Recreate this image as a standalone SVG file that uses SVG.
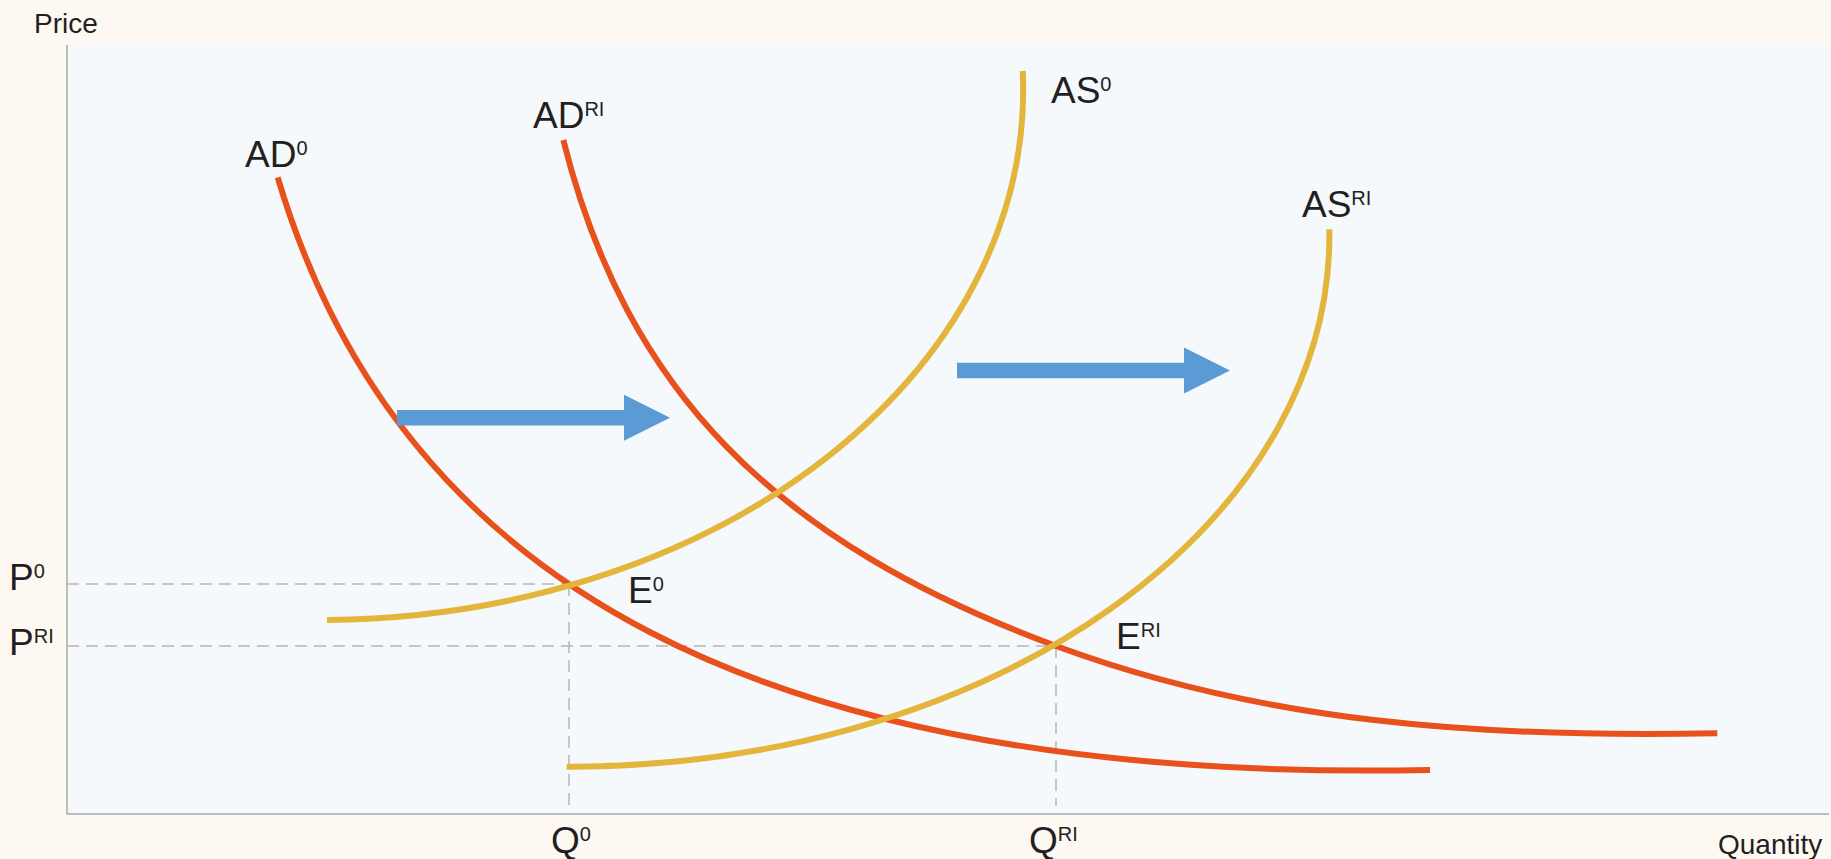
<svg xmlns="http://www.w3.org/2000/svg" width="1831" height="859" viewBox="0 0 1831 859">
  <style>
    .lbl { font-family: "Liberation Sans", Arial, sans-serif; font-size: 37px; fill: #231f20; }
    .axl { font-family: "Liberation Sans", Arial, sans-serif; font-size: 28px; fill: #231f20; }
    .sup { font-size: 20px; }
    .ad { fill: none; stroke: #e9511c; stroke-width: 6; stroke-linecap: butt; }
    .as { fill: none; stroke: #e3b53b; stroke-width: 6; stroke-linecap: butt; }
    .guide { fill: none; stroke: #b5b5b5; stroke-width: 1.5; stroke-dasharray: 12 7; }
    .axis { fill: none; stroke: #a9a9a9; stroke-width: 1.5; }
    .shift { fill: #5b9bd5; }
  </style>
  <defs>
    <polygon id="shiftArrow" points="0,-7.7 227,-7.7 227,-23 273,0 227,23 227,7.7 0,7.7"/>
  </defs>

  <rect x="0" y="0" width="1831" height="859" fill="#fdf8f2"/>
  <rect id="plot-area" x="67" y="45" width="1762" height="769" fill="#f5f9fc"/>

  <g id="axes">
    <line class="axis" x1="67" y1="45" x2="67" y2="814"/>
    <line class="axis" x1="67" y1="814" x2="1829" y2="814"/>
  </g>

  <g id="guides">
    <line class="guide" x1="67" y1="584" x2="569" y2="584"/>
    <line class="guide" x1="67" y1="646" x2="1056" y2="646"/>
    <line class="guide" x1="569" y1="584" x2="569" y2="808"/>
    <line class="guide" x1="1056" y1="646" x2="1056" y2="806"/>
  </g>

  <g id="curves">
    <path id="AD0" class="ad" d="M277.7,177.3 C399.8,589.7 770,783.2 1430,770"/>
    <path id="ADRI" class="ad" d="M563.3,140 C625.8,389.3 773.7,541.5 1056,646 C1262.4,722.3 1477.3,738.1 1717.3,733.3"/>
    <path id="AS0" class="as" d="M327,620 A703.1,530 0 0 0 1022.7,71"/>
    <path id="ASRI" class="as" d="M566.7,766.7 A759.3,530.7 0 0 0 1329.3,229.3"/>
  </g>

  <g id="shift-arrows">
    <use href="#shiftArrow" class="shift" transform="translate(397,417.7)"/>
    <use href="#shiftArrow" class="shift" transform="translate(957,370.5)"/>
  </g>

  <g id="labels">
    <text class="axl" x="34" y="33">Price</text>
    <text class="axl" x="1718" y="854">Quantity</text>
    <text class="lbl" x="9" y="590">P<tspan class="sup" dy="-12.5">0</tspan></text>
    <text class="lbl" x="9" y="655">P<tspan class="sup" dy="-12.5">RI</tspan></text>
    <text class="lbl" x="551" y="853">Q<tspan class="sup" dy="-12.5">0</tspan></text>
    <text class="lbl" x="1029" y="853">Q<tspan class="sup" dy="-12.5">RI</tspan></text>
    <text class="lbl" x="245" y="167">AD<tspan class="sup" dy="-12.5">0</tspan></text>
    <text class="lbl" x="533" y="128">AD<tspan class="sup" dy="-12.5">RI</tspan></text>
    <text class="lbl" x="1051" y="103">AS<tspan class="sup" dy="-12.5">0</tspan></text>
    <text class="lbl" x="1302" y="217">AS<tspan class="sup" dy="-12.5">RI</tspan></text>
    <text class="lbl" x="628" y="603">E<tspan class="sup" dy="-12.5">0</tspan></text>
    <text class="lbl" x="1116" y="649">E<tspan class="sup" dy="-12.5">RI</tspan></text>
  </g>
</svg>
